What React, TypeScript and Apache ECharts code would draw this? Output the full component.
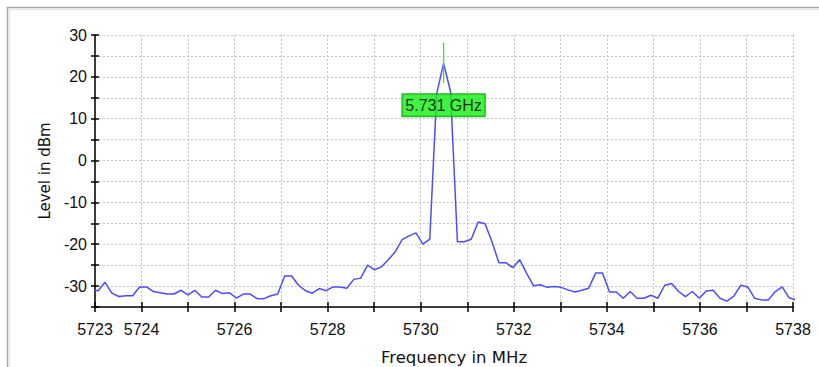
import React, { useEffect, useRef } from "react";
import * as echarts from "echarts";

// Sampling grid of the sweep (MHz): first sample and spacing
const F_START = 5722.918;
const F_STEP = 0.1485;

// Measured level (dBm) for each sample of the sweep
const LEVELS = [
  -31.0, -31.1, -29.1, -31.7, -32.5, -32.3, -32.3, -30.2, -30.2, -31.3,
  -31.6, -31.9, -31.9, -31.0, -32.1, -31.0, -32.6, -32.6, -31.0, -31.8,
  -31.6, -32.9, -31.9, -31.9, -33.0, -33.0, -32.3, -31.9, -27.6, -27.6,
  -29.8, -31.1, -31.7, -30.6, -31.1, -30.2, -30.2, -30.5, -28.4, -28.1,
  -25.0, -26.1, -25.4, -23.7, -21.8, -18.9, -18.0, -17.3, -20.0, -18.8,
  16.0, 23.2, 16.5, -19.4, -19.4, -18.8, -14.7, -15.1, -19.4, -24.4,
  -24.4, -25.6, -23.7, -26.9, -29.9, -29.7, -30.3, -30.1, -30.3, -30.9,
  -31.4, -31.0, -30.5, -26.9, -26.9, -31.4, -31.4, -32.9, -31.3, -32.9,
  -32.9, -32.2, -32.9, -29.8, -29.4, -31.3, -32.5, -31.3, -32.9, -31.2,
  -31.0, -32.9, -33.6, -32.4, -29.8, -30.2, -32.9, -33.3, -33.3, -31.3,
  -30.2, -32.8, -33.3,
];

// Axis ranges
const X_MIN = 5723;
const X_MAX = 5738;
const Y_MIN = -35;
const Y_MAX = 30;

// Peak marker
const PEAK_LABEL = "5.731 GHz";
const MARKER_TOP = 28.2;
const MARKER_BOTTOM = 18.5;
const LABEL_LEVEL = 13.2;

const FREQS = LEVELS.map((_, i) => +(F_START + i * F_STEP).toFixed(4));

export default function App() {
  const ref = useRef<HTMLDivElement>(null);

  useEffect(() => {
    if (!ref.current) return;
    const chart = echarts.init(ref.current, undefined, { renderer: "svg" });

    let peakIdx = 0;
    LEVELS.forEach((v, i) => {
      if (v > LEVELS[peakIdx]) peakIdx = i;
    });
    const peakF = FREQS[peakIdx];

    const labelFont = "'Liberation Sans', Arial, sans-serif";
    const nameFont = "'DejaVu Sans', Verdana, sans-serif";

    const xLabel = (v: number) =>
      v === X_MIN || Math.round(v) % 2 === 0 ? String(v) : "";

    chart.setOption({
      animation: false,
      backgroundColor: "#ffffff",
      grid: {
        left: 95,
        right: 26,
        top: 35,
        bottom: 60,
        containLabel: false,
        outerBoundsMode: "none",
      },
      graphic: [
        {
          type: "rect",
          silent: true,
          shape: { x: 7.5, y: 7.5, width: 900, height: 500 },
          style: { fill: "none", stroke: "#a9a9a9", lineWidth: 1.5 },
        },
        {
          type: "rect",
          silent: true,
          shape: { x: 9.5, y: 9.5, width: 900, height: 500 },
          style: { fill: "none", stroke: "#e6e6e6", lineWidth: 1 },
        },
      ],
      xAxis: [
        {
          type: "value",
          min: X_MIN,
          max: X_MAX,
          interval: 1,
          name: "Frequency in MHz",
          nameLocation: "middle",
          nameGap: 42,
          nameTextStyle: {
            fontFamily: nameFont,
            fontSize: 16.5,
            color: "#111",
            padding: [0, 0, 0, 20],
          },
          axisLine: { show: true, onZero: false, lineStyle: { color: "#000", width: 1.5 } },
          axisTick: { show: true, inside: false, length: 5, lineStyle: { color: "#000", width: 1.5 } },
          axisLabel: {
            margin: 14,
            fontFamily: labelFont,
            fontSize: 16,
            color: "#111",
            formatter: xLabel,
          },
          splitLine: {
            show: true,
            lineStyle: { color: "#c4c4c4", type: [2, 2], width: 1 },
          },
        },
        {
          type: "value",
          min: X_MIN,
          max: X_MAX,
          interval: 1,
          position: "bottom",
          axisLine: { show: false, onZero: false },
          axisTick: { show: true, inside: true, length: 5, lineStyle: { color: "#000", width: 1.5 } },
          axisLabel: { show: false },
          splitLine: { show: false },
        },
      ],
      yAxis: [
        {
          type: "value",
          min: Y_MIN,
          max: Y_MAX,
          interval: 5,
          name: "Level in dBm",
          nameLocation: "middle",
          nameGap: 40,
          nameRotate: 90,
          nameTextStyle: { fontFamily: nameFont, fontSize: 15, color: "#111" },
          axisLine: { show: true, onZero: false, lineStyle: { color: "#000", width: 1.5 } },
          axisTick: { show: true, inside: false, length: 4, lineStyle: { color: "#000", width: 1.5 } },
          axisLabel: {
            margin: 8,
            fontFamily: labelFont,
            fontSize: 16,
            color: "#111",
            formatter: (v: number) => (v % 10 === 0 ? String(v) : ""),
          },
          splitLine: {
            show: true,
            lineStyle: { color: "#c4c4c4", type: [2, 2], width: 1 },
          },
        },
        {
          type: "value",
          min: Y_MIN,
          max: Y_MAX,
          interval: 5,
          position: "left",
          axisLine: { show: false, onZero: false },
          axisTick: { show: true, inside: true, length: 4, lineStyle: { color: "#000", width: 1.5 } },
          axisLabel: { show: false },
          splitLine: { show: false },
        },
      ],
      series: [
        {
          type: "line",
          xAxisIndex: 0,
          yAxisIndex: 0,
          data: FREQS.map((f, i) => [f, LEVELS[i]]),
          showSymbol: false,
          clip: true,
          lineStyle: { color: "#4c4cff", width: 1.5 },
          z: 3,
        },
        {
          type: "line",
          xAxisIndex: 0,
          yAxisIndex: 0,
          data: [
            [peakF, MARKER_TOP],
            [peakF, MARKER_BOTTOM],
          ],
          showSymbol: false,
          lineStyle: { color: "#33e633", width: 1.3 },
          z: 4,
        },
        {
          type: "scatter",
          xAxisIndex: 0,
          yAxisIndex: 0,
          data: [[peakF, LABEL_LEVEL]],
          symbolSize: 1,
          itemStyle: { color: "rgba(0,0,0,0)" },
          z: 5,
          label: {
            show: true,
            position: "inside",
            formatter: PEAK_LABEL,
            fontFamily: labelFont,
            fontSize: 16,
            color: "#000",
            backgroundColor: "#14f014",
            borderColor: "#0b8f0b",
            borderWidth: 1,
            padding: [3, 3, 2, 3],
            lineHeight: 17,
          },
        },
      ],
    });

    return () => chart.dispose();
  }, []);

  return (
    <div
      ref={ref}
      style={{ position: "fixed", left: 0, top: 0, width: 819, height: 367 }}
    />
  );
}
